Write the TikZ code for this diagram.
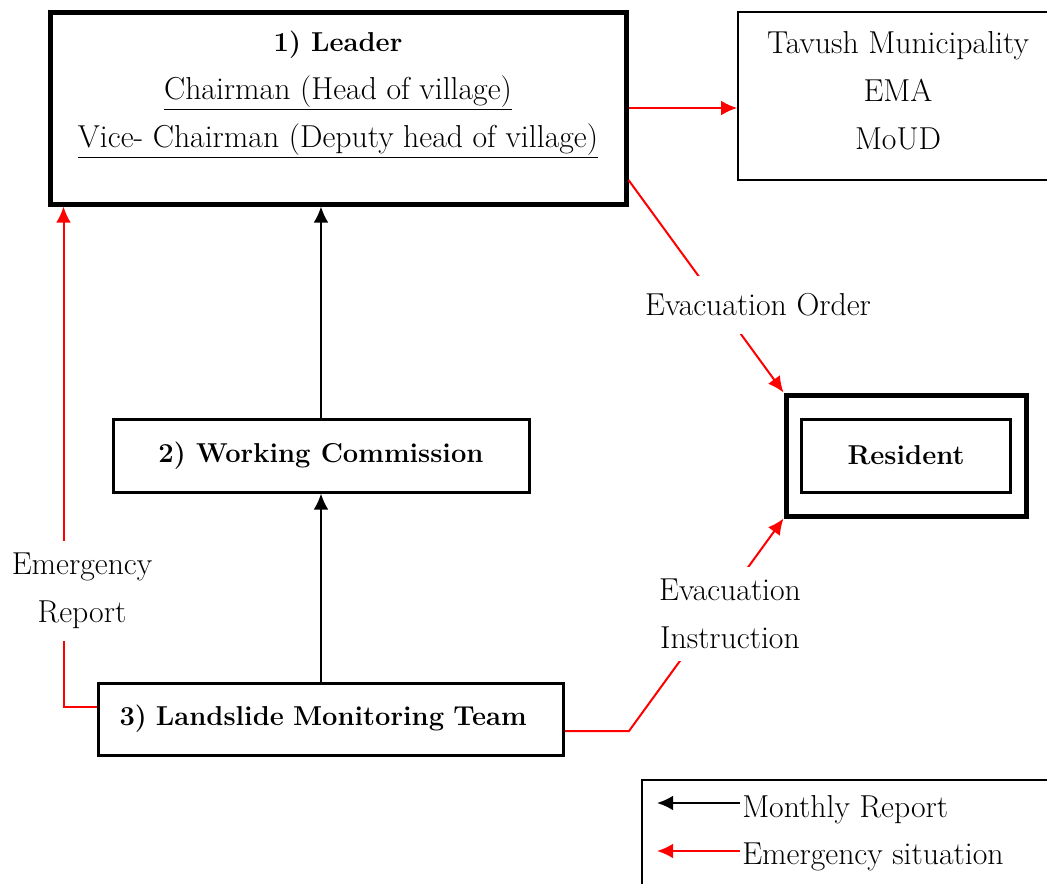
\documentclass[tikz,border=0pt]{standalone}
\usetikzlibrary{arrows.meta, positioning, calc}

\newcommand{\boldfont}{\fontsize{20.5}{36}\selectfont\bfseries}

\begin{document}
\begin{tikzpicture}[x=0.75pt, y=-0.75pt,
        font=\fontsize{23.8}{36}\selectfont,
        heavy/.style={rectangle, draw, line width=3.75pt, inner sep=0pt},
        block/.style={rectangle, draw, line width=2.25pt, inner sep=0pt, font=\boldfont},
        plain/.style={rectangle, draw, line width=1.2pt, inner sep=0pt},
        tag/.style={fill=white, align=center, inner xsep=4pt, inner ysep=13pt},
        line/.style={draw, line width=1.5pt, -{Latex[length=12pt, width=11pt]}},
        redline/.style={line, red}]

        \useasboundingbox (0,0) rectangle (1047,883);

        % Boxes
        \node [heavy, minimum width=432pt, minimum height=144pt] (leader) at (338,108) {};
        \node [align=center] (leadertext) at (338,95) {{\boldfont 1) Leader}\\
            \underline{Chairman (Head of village)}\\
            \underline{Vice- Chairman (Deputy head of village)}};

        \node [plain, minimum width=240pt, minimum height=126pt] (tavush) at (898,96) {};
        \node [align=center] (tavushtext) at (898,91) {Tavush Municipality\\EMA\\MoUD};

        \node [heavy, minimum width=180pt, minimum height=90.75pt] (resident) at (906,455.5) {};
        \node [block, minimum width=156.75pt, minimum height=54.75pt] (residentin) at (906,455.5) {Resident};

        \node [block, minimum width=312pt, minimum height=54.75pt] (wc) at (321,455.5) {2) Working Commission};
        \node [block, anchor=west, text width=317.25pt, inner xsep=15.75pt, align=left, minimum height=54pt] (lmt) at (97,719) {3) Landslide Monitoring Team};

        % Legend
        \node [plain, anchor=north west, minimum width=330pt, minimum height=90pt] (legend) at (641,779) {};
        \node [anchor=base west, inner sep=0pt] (monthly) at (742,817) {Monthly Report};
        \node [anchor=base west, inner sep=0pt] (emergency) at (742,864) {Emergency situation};
        \coordinate (m1) at (740,803);
        \coordinate (m0) at (657,803);
        \coordinate (e1) at (740,851);
        \coordinate (e0) at (657,851);
        \path [line] (m1) -- (m0);
        \path [redline] (e1) -- (e0);

        % Monthly report
        \path [line] (wc.north) -- (wc |- leader.south);
        \path [line] (wc |- lmt.north) -- (wc.south);

        % Emergency situation
        \path [redline] (leader.east) -- (leader.east -| tavush.west);

        \coordinate (orderstart) at ($(leader.east)+(0,72)$);
        \path [redline] (orderstart) -- (resident.north west);
        \node [tag] (order) at (758,305) {Evacuation Order};

        \path [redline] ($(lmt.west)+(0,-12)$) -| ($(leader.south west)+(16,0)$);
        \node [tag, inner ysep=9pt] (report) at (82,591) {Emergency\\Report};

        \coordinate (bend) at ($(lmt.east)+(64,12)$);
        \path [redline] ($(lmt.east)+(0,12)$) -- (bend) -- (resident.south west);
        \node [tag, inner ysep=9pt] (instruction) at (730,614) {Evacuation\\Instruction};

    \end{tikzpicture}
\end{document}
